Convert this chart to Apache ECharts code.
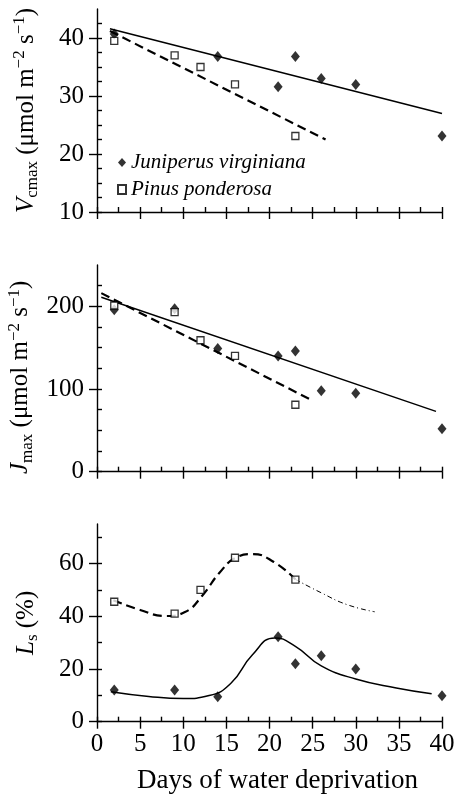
<!DOCTYPE html>
<html>
<head>
<meta charset="utf-8">
<script src="https://cdn.jsdelivr.net/npm/echarts@6/dist/echarts.min.js"></script>
<style>
html,body{margin:0;padding:0;background:#fff;}
#chart{width:455px;height:801px;}
</style>
</head>
<body>
<div id="chart"></div>
<script>
// ---------- data ----------
const speciesJ = 'Juniperus virginiana';
const speciesP = 'Pinus ponderosa';

// Panel A: Vcmax
const vcJunX = [2, 14, 21, 23, 26, 30, 40];
const vcJunY = [40.7, 36.8, 31.6, 36.8, 33.0, 32.0, 23.1];
const vcPinX = [2, 9, 12, 16, 23];
const vcPinY = [39.5, 37.0, 35.0, 32.0, 23.1];
const vcJunFitX = [1.5, 40];
const vcJunFitY = [41.6, 27.0];
const vcPinFitX = [1.5, 26.5];
const vcPinFitY = [41.2, 22.5];

// Panel B: Jmax
const jmJunX = [2, 9, 14, 21, 23, 26, 30, 40];
const jmJunY = [196, 197, 149, 140, 146, 98, 95, 52];
const jmPinX = [2, 9, 12, 16, 23];
const jmPinY = [201, 193, 159, 140, 81];
const jmJunFitX = [0.5, 39.3];
const jmJunFitY = [211, 73];
const jmPinFitX = [0.5, 24.8];
const jmPinFitY = [216, 87];

// Panel C: Ls
const lsJunX = [2, 9, 14, 21, 23, 26, 30, 40];
const lsJunY = [12.0, 12.0, 9.5, 32.2, 22.0, 25.0, 20.0, 9.8];
const lsPinX = [2, 9, 12, 16, 23];
const lsPinY = [45.5, 41.0, 50.0, 62.2, 53.9];
const lsJunCurveX = [1.6, 6, 10, 13, 15.5, 18, 20.6, 23, 26, 30, 34.7, 38.8];
const lsJunCurveY = [11.4, 9.6, 8.8, 9.9, 14.5, 25.3, 31.8, 28.6, 21.2, 16.2, 12.8, 10.6];
const lsPinCurveX = [1.9, 5, 8, 10.2, 12.2, 14.2, 16.1, 18, 20.5, 23];
const lsPinCurveY = [46.1, 42.4, 40.1, 41.6, 47.8, 56.5, 62.2, 63.6, 60.6, 54.0];
const lsPinTailX = [23, 26, 29, 32.2];
const lsPinTailY = [54.0, 48.9, 44.4, 41.7];

// ticks
const xMajor = [0, 5, 10, 15, 20, 25, 30, 35, 40];
const xAll = [0, 2.5, 5, 7.5, 10, 12.5, 15, 17.5, 20, 22.5, 25, 27.5, 30, 32.5, 35, 37.5, 40];
const vcMajor = [10, 20, 30, 40];
const vcAll = [10, 12.5, 15, 17.5, 20, 22.5, 25, 27.5, 30, 32.5, 35, 37.5, 40, 42.5];
const jmMajor = [0, 100, 200];
const jmAll = [0, 25, 50, 75, 100, 125, 150, 175, 200, 225];
const lsMajor = [0, 20, 40, 60];
const lsAll = [0, 10, 20, 30, 40, 50, 60, 70];

// ---------- helpers ----------
const FONT = '"Liberation Serif","Times New Roman",serif';
const pts = (xs, ys) => xs.map((x, i) => [x, ys[i]]);
const nameRich = {
  it: {fontStyle: 'italic', fontSize: 25, fontFamily: FONT, lineHeight: 30, color: '#000'},
  sub: {fontSize: 17, fontFamily: FONT, lineHeight: 17, verticalAlign: 'bottom', color: '#000'},
  sup: {fontSize: 17, fontFamily: FONT, lineHeight: 17, verticalAlign: 'top', color: '#000'}
};

const grids = [
  {left: 97, right: 13, top: 9, height: 203},
  {left: 97, right: 13, top: 265, height: 206.7},
  {left: 97, right: 13, top: 524, height: 197.7}
];

const xAxes = [], yAxes = [];
const yCfg = [
  {min: 10, max: 45, major: vcMajor, all: vcAll, pad: [0, 0, 0, 0], name: '{it|V}{sub|cmax} (μmol m{sup|−2} s{sup|−1})'},
  {min: 0, max: 250, major: jmMajor, all: jmAll, pad: [0, 18, 0, 0], name: '{it|J}{sub|max} (μmol m{sup|−2} s{sup|−1})'},
  {min: 0, max: 75, major: lsMajor, all: lsAll, pad: [0, 0, 0, 0], name: '{it|L}{sub|s} (%)'}
];
for (let g = 0; g < 3; g++) {
  const last = g === 2;
  xAxes.push({
    type: 'value', gridIndex: g, min: 0, max: 40, interval: 5, position: 'bottom',
    axisLine: {show: true, lineStyle: {color: '#000', width: 1.4}},
    axisTick: {show: true, inside: false, length: 7, customValues: xMajor, lineStyle: {color: '#000', width: 1.4}},
    axisLabel: {show: last, customValues: xMajor, margin: 10, color: '#000', fontSize: 25, fontFamily: FONT},
    splitLine: {show: false},
    name: last ? 'Days of water deprivation' : '',
    nameLocation: 'middle', nameGap: 46,
    nameTextStyle: {color: '#000', fontSize: 27, fontFamily: FONT, padding: [0, 0, 0, 16]}
  });
  xAxes.push({
    type: 'value', gridIndex: g, min: 0, max: 40, interval: 5, position: 'bottom',
    axisLine: {show: false},
    axisTick: {show: true, inside: true, length: 5, customValues: xAll, lineStyle: {color: '#000', width: 1.4}},
    axisLabel: {show: false}, splitLine: {show: false}
  });
  const c = yCfg[g];
  yAxes.push({
    type: 'value', gridIndex: g, min: c.min, max: c.max, position: 'left',
    axisLine: {show: true, lineStyle: {color: '#000', width: 1.4}},
    axisTick: {show: true, inside: false, length: 8, customValues: c.major, lineStyle: {color: '#000', width: 1.4}},
    axisLabel: {show: true, customValues: c.major, margin: 13, color: '#000', fontSize: 25, fontFamily: FONT},
    splitLine: {show: false},
    name: c.name, nameLocation: 'middle', nameGap: 56,
    nameTextStyle: {color: '#000', fontSize: 25, fontFamily: FONT, lineHeight: 30, padding: c.pad, rich: nameRich}
  });
  yAxes.push({
    type: 'value', gridIndex: g, min: c.min, max: c.max, position: 'left',
    axisLine: {show: false},
    axisTick: {show: true, inside: true, length: 5, customValues: c.all, lineStyle: {color: '#000', width: 1.4}},
    axisLabel: {show: false}, splitLine: {show: false}
  });
}

const series = [];
const jun = (g, xs, ys) => ({
  name: speciesJ, type: 'scatter', xAxisIndex: 2 * g, yAxisIndex: 2 * g, data: pts(xs, ys),
  symbol: 'diamond', symbolSize: [9, 11], itemStyle: {color: '#000'}, z: 4, silent: true
});
const pin = (g, xs, ys) => ({
  name: speciesP, type: 'scatter', xAxisIndex: 2 * g, yAxisIndex: 2 * g, data: pts(xs, ys),
  symbol: 'rect', symbolSize: [7, 7], itemStyle: {color: '#fff', borderColor: '#000', borderWidth: 1.3}, z: 5, silent: true
});
const line = (g, name, xs, ys, style, smooth) => ({
  name: name, type: 'line', xAxisIndex: 2 * g, yAxisIndex: 2 * g, data: pts(xs, ys),
  symbol: 'none', showSymbol: false, smooth: smooth ? 0.5 : false,
  lineStyle: Object.assign({color: '#000'}, style), z: 3, silent: true
});
const solid = {width: 1.5, type: 'solid'};
const dashed = {width: 2.2, type: [9, 5]};
const dashdot = {width: 1, type: [5, 3, 1, 3]};

series.push(jun(0, vcJunX, vcJunY), pin(0, vcPinX, vcPinY));
series.push(line(0, 'fitJ1', vcJunFitX, vcJunFitY, solid), line(0, 'fitP1', vcPinFitX, vcPinFitY, dashed));
series.push(jun(1, jmJunX, jmJunY), pin(1, jmPinX, jmPinY));
series.push(line(1, 'fitJ2', jmJunFitX, jmJunFitY, solid), line(1, 'fitP2', jmPinFitX, jmPinFitY, dashed));
series.push(jun(2, lsJunX, lsJunY), pin(2, lsPinX, lsPinY));
series.push(line(2, 'curveJ', lsJunCurveX, lsJunCurveY, solid, true));
series.push(line(2, 'curveP', lsPinCurveX, lsPinCurveY, dashed, true));
series.push(line(2, 'curveP2', lsPinTailX, lsPinTailY, dashdot, true));

const chart = echarts.init(document.getElementById('chart'), null, {renderer: 'canvas'});
chart.setOption({
  animation: false,
  backgroundColor: '#fff',
  grid: grids.map(g => Object.assign({containLabel: false, outerBoundsMode: 'none'}, g)),
  xAxis: xAxes,
  yAxis: yAxes,
  legend: {
    data: [{name: speciesJ, icon: 'diamond'}, {name: speciesP, icon: 'rect'}],
    orient: 'vertical', left: 117, top: 152, padding: 0, itemGap: 6,
    itemWidth: 8, itemHeight: 9, selectedMode: false,
    textStyle: {color: '#000', fontSize: 21, fontStyle: 'italic', fontFamily: FONT}
  },
  series: series
});
</script>
</body>
</html>
